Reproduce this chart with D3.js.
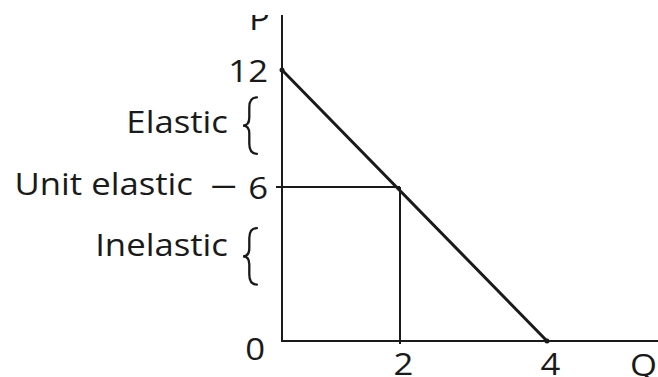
<!DOCTYPE html>
<html>
<head>
<meta charset="utf-8">
<script src="https://cdn.jsdelivr.net/npm/d3@7"></script>
<style>
  html, body { margin: 0; padding: 0; background: #fff; }
  svg { display: block; }
  text { font-family: "Open Sans", "Noto Sans", sans-serif; fill: #1a1a1a; }
</style>
</head>
<body>
<svg id="chart" width="658" height="377"></svg>
<script>
// Linear demand curve: P = 12 - 3Q
const demandQ = [0, 4];
const demandP = [12, 0];

// Unit-elastic midpoint
const midQ = 2;
const midP = 6;

// Tick values / labels
const priceTicks = [0, 6, 12];
const quantityTicks = [2, 4];

// Elasticity regions along the price axis (brace spans)
const regions = [
  { name: "Elastic",   from: 7.7, to: 10.6 },
  { name: "Inelastic", from: 2.2, to: 4.4 }
];
const unitLabel = "Unit elastic";

const svg = d3.select("#chart");
const W = 658, H = 377;
const ink = "#1a1a1a";
const FONT = 31, SX = 1.12;

// Hand-drawn proportions: piecewise linear scales
const x = d3.scaleLinear().domain([0, 2, 4]).range([282, 400, 547]);
const y = d3.scaleLinear().domain([0, 6, 12]).range([341, 187, 70]);

// Text helper with slight horizontal widening
function label(txt, px, py, anchor, sx) {
  return svg.append("text")
    .attr("transform", `translate(${px},${py}) scale(${sx || SX},1)`)
    .attr("text-anchor", anchor || "start")
    .attr("font-size", FONT)
    .text(txt);
}

// Clip for the top of the drawing
svg.append("clipPath").attr("id", "topclip")
  .append("rect").attr("x", 0).attr("y", 15).attr("width", W).attr("height", H - 15);

const plot = svg.append("g").attr("clip-path", "url(#topclip)");

// Axes
plot.append("line")
  .attr("x1", x(0)).attr("x2", x(0))
  .attr("y1", 0).attr("y2", y(0) + 1)
  .attr("stroke", ink).attr("stroke-width", 2);
plot.append("line")
  .attr("x1", x(0) - 1).attr("x2", W)
  .attr("y1", y(0)).attr("y2", y(0))
  .attr("stroke", ink).attr("stroke-width", 2);

// Axis titles
plot.append("text")
  .attr("transform", `translate(${x(0) - 12},30) scale(${SX},1)`)
  .attr("text-anchor", "end").attr("font-size", FONT).text("P");
label("Q", W - 1, 376, "end");

// Price tick labels
const yAxis = d3.axisLeft(y).tickValues(priceTicks).tickSize(0).tickPadding(0).tickFormat(d3.format("d"));
const yAxisG = svg.append("g").attr("transform", `translate(${x(0)},0)`).call(yAxis);
yAxisG.select(".domain").remove();
yAxisG.selectAll("text")
  .attr("font-family", null)
  .attr("font-size", FONT)
  .attr("fill", ink)
  .attr("dy", null)
  .attr("x", null)
  .attr("transform", d => `translate(${d === 0 ? -17 : -14},${d === 0 ? 18 : 11}) scale(${SX},1)`);

// Quantity tick labels
const xAxis = d3.axisBottom(x).tickValues(quantityTicks).tickSize(0).tickPadding(0).tickFormat(d3.format("d"));
const xAxisG = svg.append("g").attr("transform", `translate(0,${y(0)})`).call(xAxis);
xAxisG.select(".domain").remove();
xAxisG.selectAll("text")
  .attr("font-family", null)
  .attr("font-size", FONT)
  .attr("fill", ink)
  .attr("dy", null)
  .attr("y", null)
  .attr("transform", `translate(3,34) scale(${SX},1)`);

// Guide lines to the unit-elastic point
svg.append("line")
  .attr("x1", x(0) - 6).attr("x2", x(midQ))
  .attr("y1", y(midP)).attr("y2", y(midP))
  .attr("stroke", ink).attr("stroke-width", 2);
svg.append("line")
  .attr("x1", x(midQ)).attr("x2", x(midQ))
  .attr("y1", y(midP)).attr("y2", y(0) + 3)
  .attr("stroke", ink).attr("stroke-width", 2);

// Demand curve
const demand = demandQ.map((q, i) => [x(q), y(demandP[i])]);
svg.append("path")
  .attr("d", d3.line()(demand))
  .attr("fill", "none").attr("stroke", ink)
  .attr("stroke-width", 3).attr("stroke-linecap", "round");
svg.selectAll("circle.end").data(demand).join("circle")
  .attr("class", "end")
  .attr("cx", d => d[0]).attr("cy", d => d[1]).attr("r", 2.5).attr("fill", ink);

// Curly brace opening to the left
function bracePath(xr, y0, y1, w) {
  const xm = xr - w * 0.55, xl = xr - w;
  const ym = (y0 + y1) / 2;
  const c = Math.min(10, (y1 - y0) / 5);
  return [
    `M${xr},${y0}`,
    `Q${xm},${y0} ${xm},${y0 + c}`,
    `L${xm},${ym - c * 0.8}`,
    `Q${xm},${ym} ${xl},${ym}`,
    `Q${xm},${ym} ${xm},${ym + c * 0.8}`,
    `L${xm},${y1 - c}`,
    `Q${xm},${y1} ${xr},${y1}`
  ].join(" ");
}

regions.forEach((r, i) => {
  const top = y(r.to), bot = y(r.from);
  svg.append("path")
    .attr("d", bracePath(257, top, bot, 14))
    .attr("fill", "none").attr("stroke", ink)
    .attr("stroke-width", 2.3).attr("stroke-linecap", "round");
  const mid = (top + bot) / 2;
  label(r.name, 228, i === 0 ? mid + 7 : mid, "end");
});

// Unit elastic label with dash pointing to P = 6
label(unitLabel, 193, y(midP) + 8, "end");
label("\u2014", 236, y(midP) + 8, "end", 0.8);
</script>
</body>
</html>
